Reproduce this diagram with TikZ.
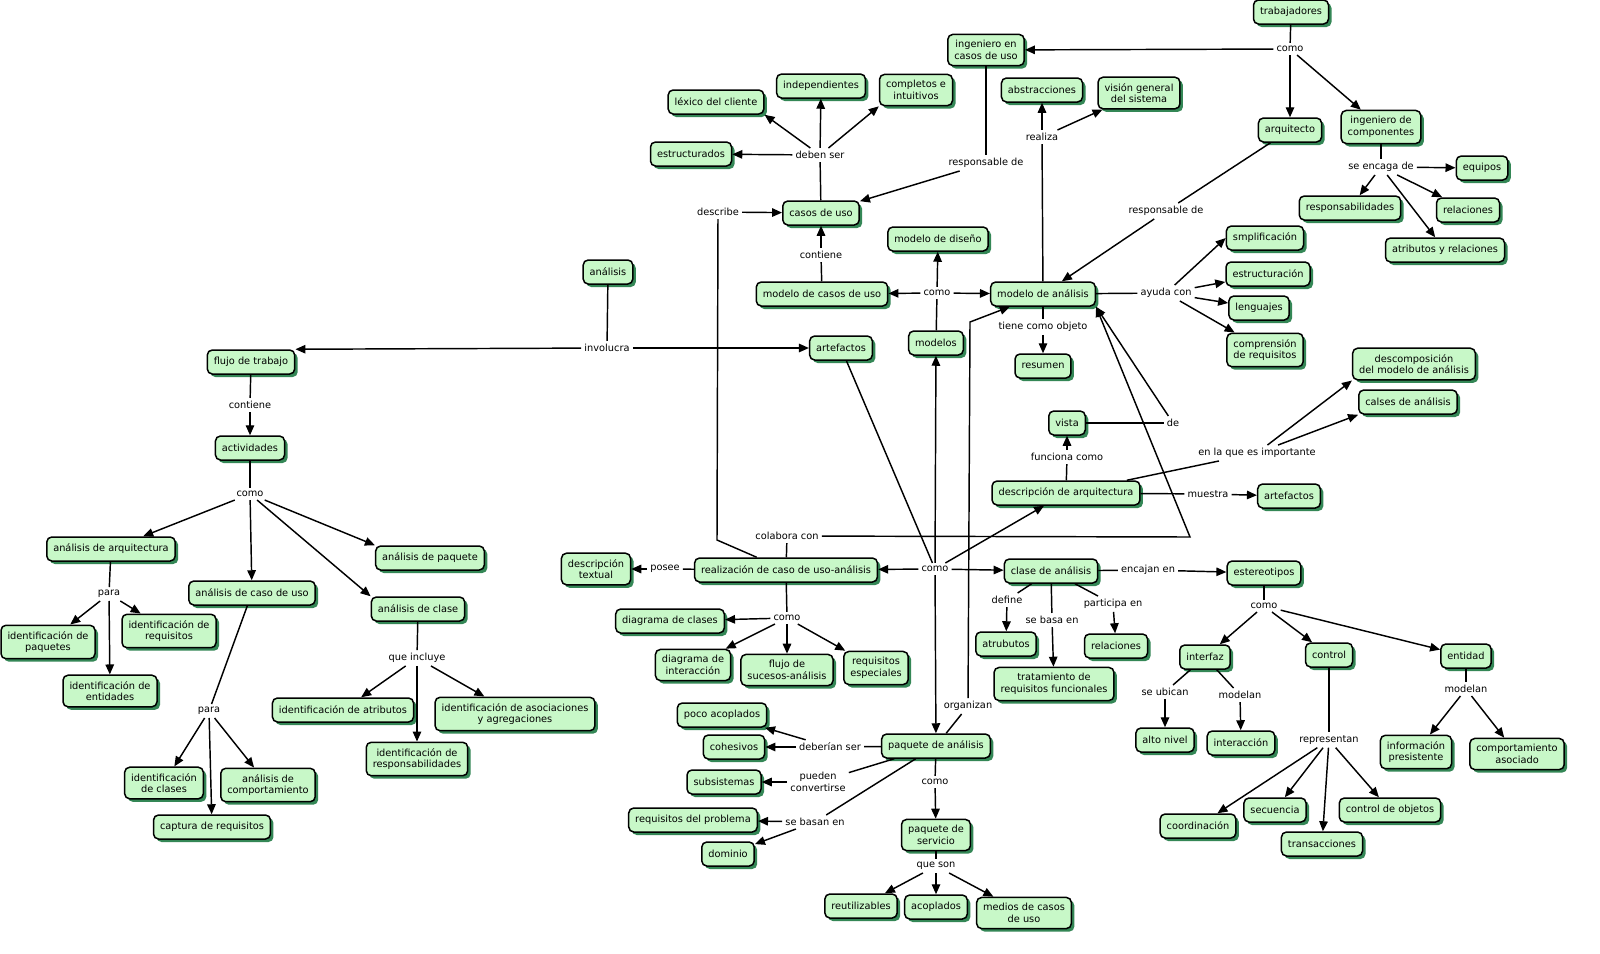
\documentclass[tikz,border=0pt]{standalone}
\usepackage{fontspec}
\setmainfont{DejaVu Sans}
\usetikzlibrary{arrows.meta, shadows}
\definecolor{cmapfill}{RGB}{200,248,200}
\definecolor{cmapshadow}{RGB}{52,135,86}
\tikzset{
    concepto/.style={draw, line width=1.5pt, rounded corners=5pt, fill=cmapfill, align=center,
        inner xsep=6.5pt, inner ysep=6pt, minimum height=24pt,
        font=\fontsize{9.8}{11.6}\selectfont,
        drop shadow={shadow xshift=3pt, shadow yshift=-3pt, fill=cmapshadow, opacity=1}},
    enlace/.style={inner sep=2.5pt, align=center, font=\fontsize{9.8}{11.6}\selectfont}
}
\begin{document}
\begin{tikzpicture}[x=1pt, y=-1pt, line width=1.45pt, >={Triangle[length=10pt, width=8.5pt]}]
    \path[fill=white, use as bounding box] (0, 0) rectangle (1600, 953);

    \node[concepto] (trabajadores) at (1291, 12) {trabajadores};
    \node[enlace] (comoTrab) at (1290, 49) {como};
    \node[concepto] (ingCasos) at (986, 50) {ingeniero en\\casos de uso};
    \node[concepto] (arquitecto) at (1290, 130) {arquitecto};
    \node[concepto] (ingCompo) at (1381, 127) {ingeniero de\\componentes};
    \node[enlace] (seEncaga) at (1381, 167) {se encaga de};
    \node[concepto] (equipos) at (1482, 168) {equipos};
    \node[concepto] (responsab) at (1350, 208) {responsabilidades};
    \node[concepto] (relaciones) at (1468, 210) {relaciones};
    \node[concepto] (atribRel) at (1445, 250) {atributos y relaciones};
    \node[concepto] (abstrac) at (1042, 90) {abstracciones};
    \node[concepto] (vision) at (1139, 93) {visión general\\del sistema};
    \node[enlace] (realiza) at (1042, 137) {realiza};
    \node[enlace] (respCasos) at (986, 163) {responsable de};
    \node[enlace] (respModelo) at (1166, 211) {responsable de};

    \node[concepto] (lexico) at (716, 102) {léxico del cliente};
    \node[concepto] (independ) at (821, 86) {independientes};
    \node[concepto] (completos) at (916, 90) {completos e\\intuitivos};
    \node[concepto] (estructurados) at (691, 154) {estructurados};
    \node[enlace] (debenSer) at (820, 155) {deben ser};
    \node[concepto] (casos) at (821, 213) {casos de uso};
    \node[enlace] (describe) at (718, 212) {describe};
    \node[enlace] (contieneCasos) at (821, 255) {contiene};
    \node[concepto] (modCasos) at (822, 294) {modelo de casos de uso};
    \node[concepto] (modDiseno) at (938, 239) {modelo de diseño};
    \node[enlace] (comoModelos) at (937, 293) {como};
    \node[concepto] (modAnalisis) at (1043, 294) {modelo de análisis};
    \node[concepto] (modelos) at (936, 343) {modelos};
    \node[enlace] (tieneObjeto) at (1043, 327) {tiene como objeto};
    \node[concepto] (resumen) at (1043, 366) {resumen};
    \node[enlace] (ayudaCon) at (1166, 293) {ayuda con};
    \node[concepto] (smplif) at (1265, 238) {smplificación};
    \node[concepto] (estructuracion) at (1268, 274) {estructuración};
    \node[concepto] (lenguajes) at (1259, 308) {lenguajes};
    \node[concepto] (comprension) at (1265, 350) {comprensión\\de requisitos};
    \node[concepto] (descompos) at (1414, 364) {descomposición\\del modelo de análisis};
    \node[concepto] (calses) at (1408, 402) {calses de análisis};
    \node[concepto] (vista) at (1067, 423) {vista};
    \node[enlace] (deVista) at (1173, 423) {de};
    \node[enlace] (funcionaComo) at (1067, 457) {funciona como};
    \node[enlace] (enLaQue) at (1257, 453) {en la que es importante};
    \node[concepto] (descArq) at (1066, 493) {descripción de arquitectura};
    \node[enlace] (muestra) at (1208, 494) {muestra};
    \node[concepto] (artefactosB) at (1289, 496) {artefactos};

    \node[concepto] (analisis) at (608, 272) {análisis};
    \node[enlace] (involucra) at (607, 348) {involucra};
    \node[concepto] (flujo) at (251, 362) {flujo de trabajo};
    \node[concepto] (artefactos) at (841, 348) {artefactos};
    \node[enlace] (contieneAct) at (250, 405) {contiene};
    \node[concepto] (actividades) at (250, 448) {actividades};
    \node[enlace] (comoAct) at (250, 494) {como};
    \node[concepto] (anArq) at (111, 549) {análisis de arquitectura};
    \node[concepto] (anCaso) at (252, 593) {análisis de caso de uso};
    \node[concepto] (anPaquete) at (430, 558) {análisis de paquete};
    \node[concepto] (anClase) at (418, 609) {análisis de clase};
    \node[enlace] (paraArq) at (109, 594) {para};
    \node[concepto] (idPaquetes) at (48, 642) {identificación de\\paquetes};
    \node[concepto] (idRequisitos) at (169, 631) {identificación de\\requisitos};
    \node[concepto] (idEntidades) at (110, 691) {identificación de\\entidades};
    \node[enlace] (paraCaso) at (209, 711) {para};
    \node[concepto] (idClases) at (164, 783) {identificación\\de clases};
    \node[concepto] (anComport) at (268, 785) {análisis de\\comportamiento};
    \node[concepto] (captura) at (212, 827) {captura de requisitos};
    \node[enlace] (queIncluye) at (417, 658) {que incluye};
    \node[concepto] (idAtributos) at (343, 710) {identificación de atributos};
    \node[concepto] (idResp) at (417, 759) {identificación de\\responsabilidades};
    \node[concepto] (idAsoc) at (515, 714) {identificación de asociaciones\\y agregaciones};

    \node[concepto] (descTextual) at (596, 569) {descripción\\textual};
    \node[enlace] (posee) at (665, 569) {posee};
    \node[concepto] (realizacion) at (786, 570) {realización de caso de uso-análisis};
    \node[enlace] (colabora) at (787, 536) {colabora con};
    \node[enlace] (comoArt) at (935, 569) {como};
    \node[concepto] (claseAn) at (1051, 571) {clase de análisis};
    \node[enlace] (encajan) at (1148, 570) {encajan en};
    \node[concepto] (estereotipos) at (1264, 573) {estereotipos};
    \node[enlace] (define) at (1007, 600) {define};
    \node[concepto] (atrubutos) at (1006, 644) {atrubutos};
    \node[enlace] (seBasa) at (1052, 620) {se basa en};
    \node[concepto] (tratamiento) at (1054, 684) {tratamiento de\\requisitos funcionales};
    \node[enlace] (participa) at (1113, 604) {participa en};
    \node[concepto] (relacionesB) at (1116, 646) {relaciones};
    \node[enlace] (comoEst) at (1264, 606) {como};
    \node[concepto] (interfaz) at (1205, 657) {interfaz};
    \node[concepto] (control) at (1329, 655) {control};
    \node[concepto] (entidad) at (1466, 656) {entidad};
    \node[enlace] (seUbican) at (1165, 692) {se ubican};
    \node[enlace] (modelanInt) at (1240, 695) {modelan};
    \node[concepto] (altoNivel) at (1165, 740) {alto nivel};
    \node[concepto] (interaccion) at (1241, 743) {interacción};
    \node[enlace] (representan) at (1329, 740) {representan};
    \node[enlace] (modelanEnt) at (1466, 689) {modelan};
    \node[concepto] (infoPres) at (1416, 752) {información\\presistente};
    \node[concepto] (comportAs) at (1517, 754) {comportamiento\\asociado};
    \node[concepto] (coordinacion) at (1198, 826) {coordinación};
    \node[concepto] (secuencia) at (1275, 810) {secuencia};
    \node[concepto] (transacciones) at (1322, 844) {transacciones};
    \node[concepto] (controlObj) at (1390, 810) {control de objetos};

    \node[concepto] (diagClases) at (670, 621) {diagrama de clases};
    \node[enlace] (comoReal) at (787, 618) {como};
    \node[concepto] (diagInter) at (693, 665) {diagrama de\\interacción};
    \node[concepto] (flujoSuc) at (787, 670) {flujo de\\sucesos-análisis};
    \node[concepto] (reqEsp) at (876, 668) {requisitos\\especiales};
    \node[concepto] (pocoAcop) at (722, 715) {poco acoplados};
    \node[concepto] (cohesivos) at (734, 747) {cohesivos};
    \node[enlace] (deberian) at (830, 747) {deberían ser};
    \node[concepto] (paqAnalisis) at (936, 746) {paquete de análisis};
    \node[enlace] (organizan) at (968, 706) {organizan};
    \node[concepto] (subsistemas) at (724, 782) {subsistemas};
    \node[enlace] (pueden) at (818, 782) {pueden\\convertirse};
    \node[concepto] (reqProblema) at (693, 820) {requisitos del problema};
    \node[enlace] (seBasan) at (815, 822) {se basan en};
    \node[concepto] (dominio) at (728, 854) {dominio};
    \node[enlace] (comoPaq) at (935, 782) {como};
    \node[concepto] (paqServicio) at (936, 835) {paquete de\\servicio};
    \node[enlace] (queSon) at (936, 866) {que son};
    \node[concepto] (reutilizables) at (861, 906) {reutilizables};
    \node[concepto] (acoplados) at (936, 907) {acoplados};
    \node[concepto] (medios) at (1024, 913) {medios de casos\\de uso};

    \coordinate (codoDescribe) at (717, 540);
    \coordinate (codoColabora) at (1190, 537);
    \coordinate (codoOrganizan) at (970, 322);

    \draw
    (trabajadores) edge (comoTrab)
    (comoTrab) edge[->] (ingCasos)
    (comoTrab) edge[->] (arquitecto)
    (comoTrab) edge[->] (ingCompo)
    (ingCasos) edge (respCasos)
    (respCasos) edge[->] (casos)
    (arquitecto) edge (respModelo)
    (respModelo) edge[->] (modAnalisis)
    (ingCompo) edge (seEncaga)
    (seEncaga) edge[->] (equipos)
    (seEncaga) edge[->] (responsab)
    (seEncaga) edge[->] (relaciones)
    (seEncaga) edge[->] (atribRel)
    (modAnalisis) edge (realiza)
    (realiza) edge[->] (abstrac)
    (realiza) edge[->] (vision)
    (casos) edge (debenSer)
    (debenSer) edge[->] (estructurados)
    (debenSer) edge[->] (lexico.south east)
    (debenSer) edge[->] (independ)
    (debenSer) edge[->] (completos.south west)
    (describe) edge[->] (casos)
    (modCasos) edge (contieneCasos)
    (contieneCasos) edge[->] (casos)
    (modelos) edge (comoModelos)
    (comoModelos) edge[->] (modCasos)
    (comoModelos) edge[->] (modAnalisis)
    (comoModelos) edge[->] (modDiseno)
    (modAnalisis) edge (tieneObjeto)
    (tieneObjeto) edge[->] (resumen)
    (modAnalisis) edge (ayudaCon)
    (ayudaCon) edge[->] (smplif.west)
    (ayudaCon) edge[->] (estructuracion)
    (ayudaCon) edge[->] (lenguajes)
    (ayudaCon) edge[->] (comprension)
    (descArq) edge (funcionaComo)
    (funcionaComo) edge[->] (vista)
    (vista) edge (deVista)
    (deVista) edge[->] (modAnalisis.south east)
    (descArq) edge (enLaQue)
    (enLaQue) edge[->] (descompos.south west)
    (enLaQue) edge[->] (calses.south west)
    (descArq) edge (muestra)
    (muestra) edge[->] (artefactosB);

    \draw
    (analisis) edge (involucra)
    (involucra) edge[->] (flujo.north east)
    (involucra) edge[->] (artefactos)
    (flujo) edge (contieneAct)
    (contieneAct) edge[->] (actividades)
    (actividades) edge (comoAct)
    (comoAct) edge[->] (anArq)
    (comoAct) edge[->] (anCaso)
    (comoAct) edge[->] (anClase.north west)
    (comoAct) edge[->] (anPaquete.north west)
    (anArq) edge (paraArq)
    (paraArq) edge[->] (idPaquetes)
    (paraArq) edge[->] (idRequisitos)
    (paraArq) edge[->] (idEntidades)
    (anCaso) edge (paraCaso)
    (paraCaso) edge[->] (idClases)
    (paraCaso) edge[->] (captura)
    (paraCaso) edge[->] (anComport)
    (anClase) edge (queIncluye)
    (queIncluye) edge[->] (idAtributos)
    (queIncluye) edge[->] (idResp)
    (queIncluye) edge[->] (idAsoc);

    \draw
    (artefactos) edge (comoArt)
    (comoArt) edge[->] (realizacion)
    (comoArt) edge[->] (claseAn)
    (comoArt) edge[->] (descArq)
    (comoArt) edge[->] (modelos)
    (comoArt) edge[->] (paqAnalisis)
    (realizacion) edge (posee)
    (posee) edge[->] (descTextual)
    (realizacion) edge (colabora)
    (realizacion) edge (comoReal)
    (comoReal) edge[->] (diagClases)
    (comoReal) edge[->] (diagInter)
    (comoReal) edge[->] (flujoSuc)
    (comoReal) edge[->] (reqEsp)
    (claseAn) edge (encajan)
    (encajan) edge[->] (estereotipos)
    (claseAn) edge (define)
    (define) edge[->] (atrubutos)
    (claseAn) edge (seBasa)
    (seBasa) edge[->] (tratamiento)
    (claseAn) edge (participa)
    (participa) edge[->] (relacionesB)
    (estereotipos) edge (comoEst)
    (comoEst) edge[->] (interfaz)
    (comoEst) edge[->] (control)
    (comoEst) edge[->] (entidad)
    (interfaz) edge (seUbican)
    (seUbican) edge[->] (altoNivel)
    (interfaz) edge (modelanInt)
    (modelanInt) edge[->] (interaccion)
    (control) edge (representan)
    (representan) edge[->] (coordinacion)
    (representan) edge[->] (secuencia)
    (representan) edge[->] (transacciones)
    (representan) edge[->] (controlObj)
    (entidad) edge (modelanEnt)
    (modelanEnt) edge[->] (infoPres)
    (modelanEnt) edge[->] (comportAs)
    (paqAnalisis) edge (deberian)
    (deberian) edge[->] (pocoAcop)
    (deberian) edge[->] (cohesivos)
    (paqAnalisis) edge (pueden)
    (pueden) edge[->] (subsistemas)
    (paqAnalisis) edge (seBasan)
    (seBasan) edge[->] (reqProblema)
    (seBasan) edge[->] (dominio)
    (paqAnalisis) edge (comoPaq)
    (comoPaq) edge[->] (paqServicio)
    (paqServicio) edge (queSon)
    (queSon) edge[->] (reutilizables)
    (queSon) edge[->] (acoplados)
    (queSon) edge[->] (medios)
    (paqAnalisis) edge (organizan);

    \draw (realizacion) -- (codoDescribe) -- (describe);
    \draw[->] (colabora) -- (codoColabora) -- (modAnalisis.south east);
    \draw[->] (organizan) -- (codoOrganizan) -- (modAnalisis);
\end{tikzpicture}
\end{document}
